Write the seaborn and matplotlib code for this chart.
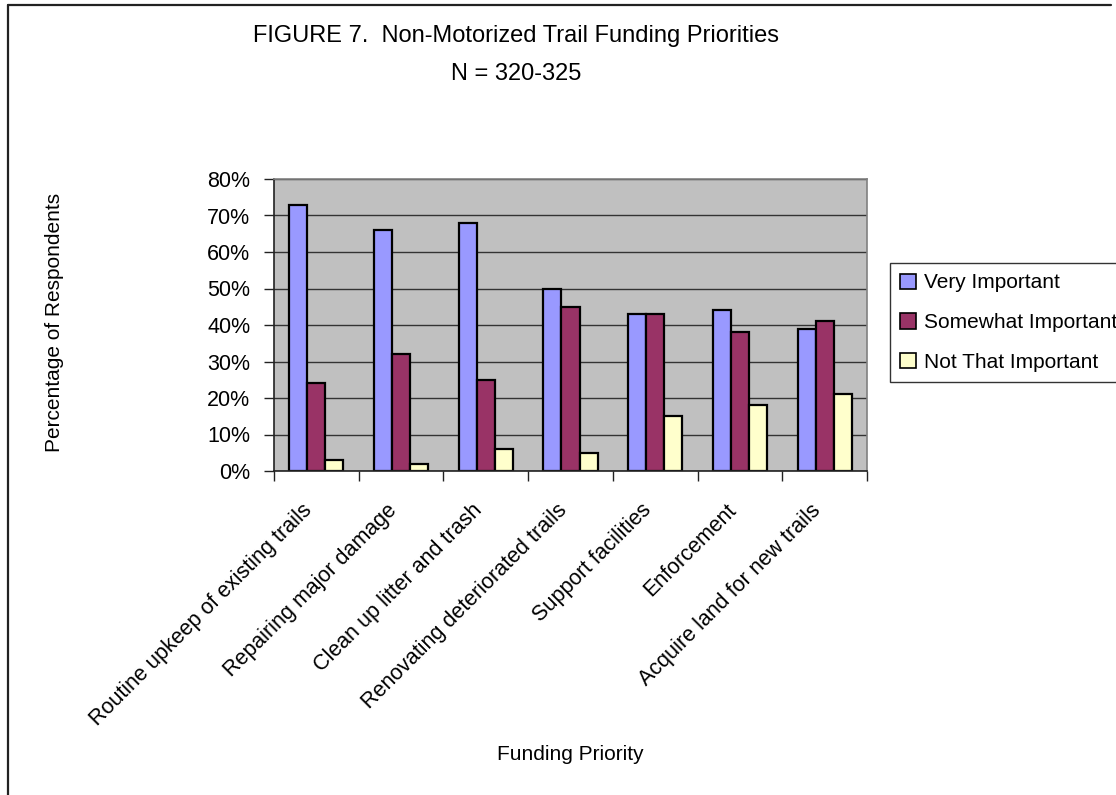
import matplotlib
matplotlib.use("Agg")
import matplotlib.pyplot as plt
import seaborn as sns
import pandas as pd
from matplotlib.lines import Line2D
from matplotlib.ticker import FixedLocator, PercentFormatter
import matplotlib.transforms as mtransforms

categories = [
    "Routine upkeep of existing trails",
    "Repairing major damage",
    "Clean up litter and trash",
    "Renovating deteriorated trails",
    "Support facilities",
    "Enforcement",
    "Acquire land for new trails",
]
series_names = ["Very Important", "Somewhat Important", "Not That Important"]
very_important = [73, 66, 68, 50, 43, 44, 39]
somewhat_important = [24, 32, 25, 45, 43, 38, 41]
not_that_important = [3, 2, 6, 5, 15, 18, 21]
y_ticks = [0, 10, 20, 30, 40, 50, 60, 70, 80]

colors = ["#9999FF", "#993366", "#FFFFCC"]

rows = []
for name, vals in zip(series_names, [very_important, somewhat_important, not_that_important]):
    for c, v in zip(categories, vals):
        rows.append({"Funding Priority": c, "Series": name, "Value": v})
df = pd.DataFrame(rows)

sns.set_theme(style="white")
plt.rcParams["font.family"] = ["Liberation Sans", "DejaVu Sans"]
plt.rcParams["text.color"] = "black"

W, H = 1116, 795
fig = plt.figure(figsize=(W / 100, H / 100), dpi=100)
fig.patch.set_facecolor("white")

left, right, top, bottom = 274, 867, 179, 471
ax = fig.add_axes([left / W, 1 - bottom / H, (right - left) / W, (bottom - top) / H])

sns.barplot(data=df, x="Funding Priority", y="Value", hue="Series",
            hue_order=series_names, order=categories, palette=colors,
            width=0.64, gap=0, edgecolor="black", linewidth=1.6,
            saturation=1, ax=ax, legend=True)

ax.set_facecolor("#C0C0C0")
ax.set_axisbelow(True)
ax.set_ylim(0, 80)
ax.set_xlim(-0.5, len(categories) - 0.5)
ax.yaxis.set_major_locator(FixedLocator(y_ticks))
ax.yaxis.set_major_formatter(PercentFormatter(decimals=0))
ax.grid(axis="y", color="#333333", linewidth=1)
ax.grid(axis="x", visible=False)

for s in ["top", "right"]:
    ax.spines[s].set_color("#808080")
    ax.spines[s].set_linewidth(1.2)
for s in ["left", "bottom"]:
    ax.spines[s].set_color("#222222")
    ax.spines[s].set_linewidth(1.2)

ax.tick_params(axis="y", which="major", direction="out", length=7, width=1,
               color="#222222", left=True, labelsize=15.5, pad=10, labelcolor="black")
ax.set_xticks(range(len(categories)))
ax.set_xticks([i - 0.5 for i in range(len(categories) + 1)], minor=True)
ax.tick_params(axis="x", which="major", length=0, pad=26, labelsize=15.5, labelcolor="black")
ax.tick_params(axis="x", which="minor", direction="out", length=7, width=1,
               color="#222222", bottom=True)
ax.set_xticklabels(categories, rotation=45, ha="right", va="center",
                   rotation_mode="anchor")
shift = mtransforms.ScaledTranslation(-7 / 100, 0, fig.dpi_scale_trans)
for lab in ax.get_xticklabels():
    lab.set_transform(lab.get_transform() + shift)
ax.set_xlabel("")
ax.set_ylabel("")

handles, labels = ax.get_legend_handles_labels()
ax.legend_.remove()
leg = fig.legend(handles, labels, loc="upper left",
                 bbox_to_anchor=(890 / W, 1 - 263 / H),
                 frameon=True, fancybox=False, shadow=False,
                 fontsize=15, handlelength=0.75, handleheight=0.75,
                 handletextpad=0.4, labelspacing=1.0, borderpad=0.5,
                 borderaxespad=0)
leg.get_frame().set_edgecolor("black")
leg.get_frame().set_linewidth(1)
for p in leg.get_patches():
    p.set_edgecolor("black")
    p.set_linewidth(1.2)

fig.text(516 / W, 1 - 36 / H, "FIGURE 7.  Non-Motorized Trail Funding Priorities",
         ha="center", va="center", fontsize=17)
fig.text(516 / W, 1 - 74 / H, "N = 320-325", ha="center", va="center", fontsize=17)
fig.text(55 / W, 1 - 322 / H, "Percentage of Respondents", rotation=90,
         ha="center", va="center", fontsize=15)
fig.text(570 / W, 1 - 755 / H, "Funding Priority", ha="center", va="center", fontsize=15)

fig.add_artist(Line2D([8 / W, 8 / W], [0, 1 - 5 / H], transform=fig.transFigure,
                      color="#222222", linewidth=1.6))
fig.add_artist(Line2D([8 / W, 1111 / W], [1 - 5 / H, 1 - 5 / H], transform=fig.transFigure,
                      color="#222222", linewidth=1.6))

fig.savefig("out.png", dpi=100)
